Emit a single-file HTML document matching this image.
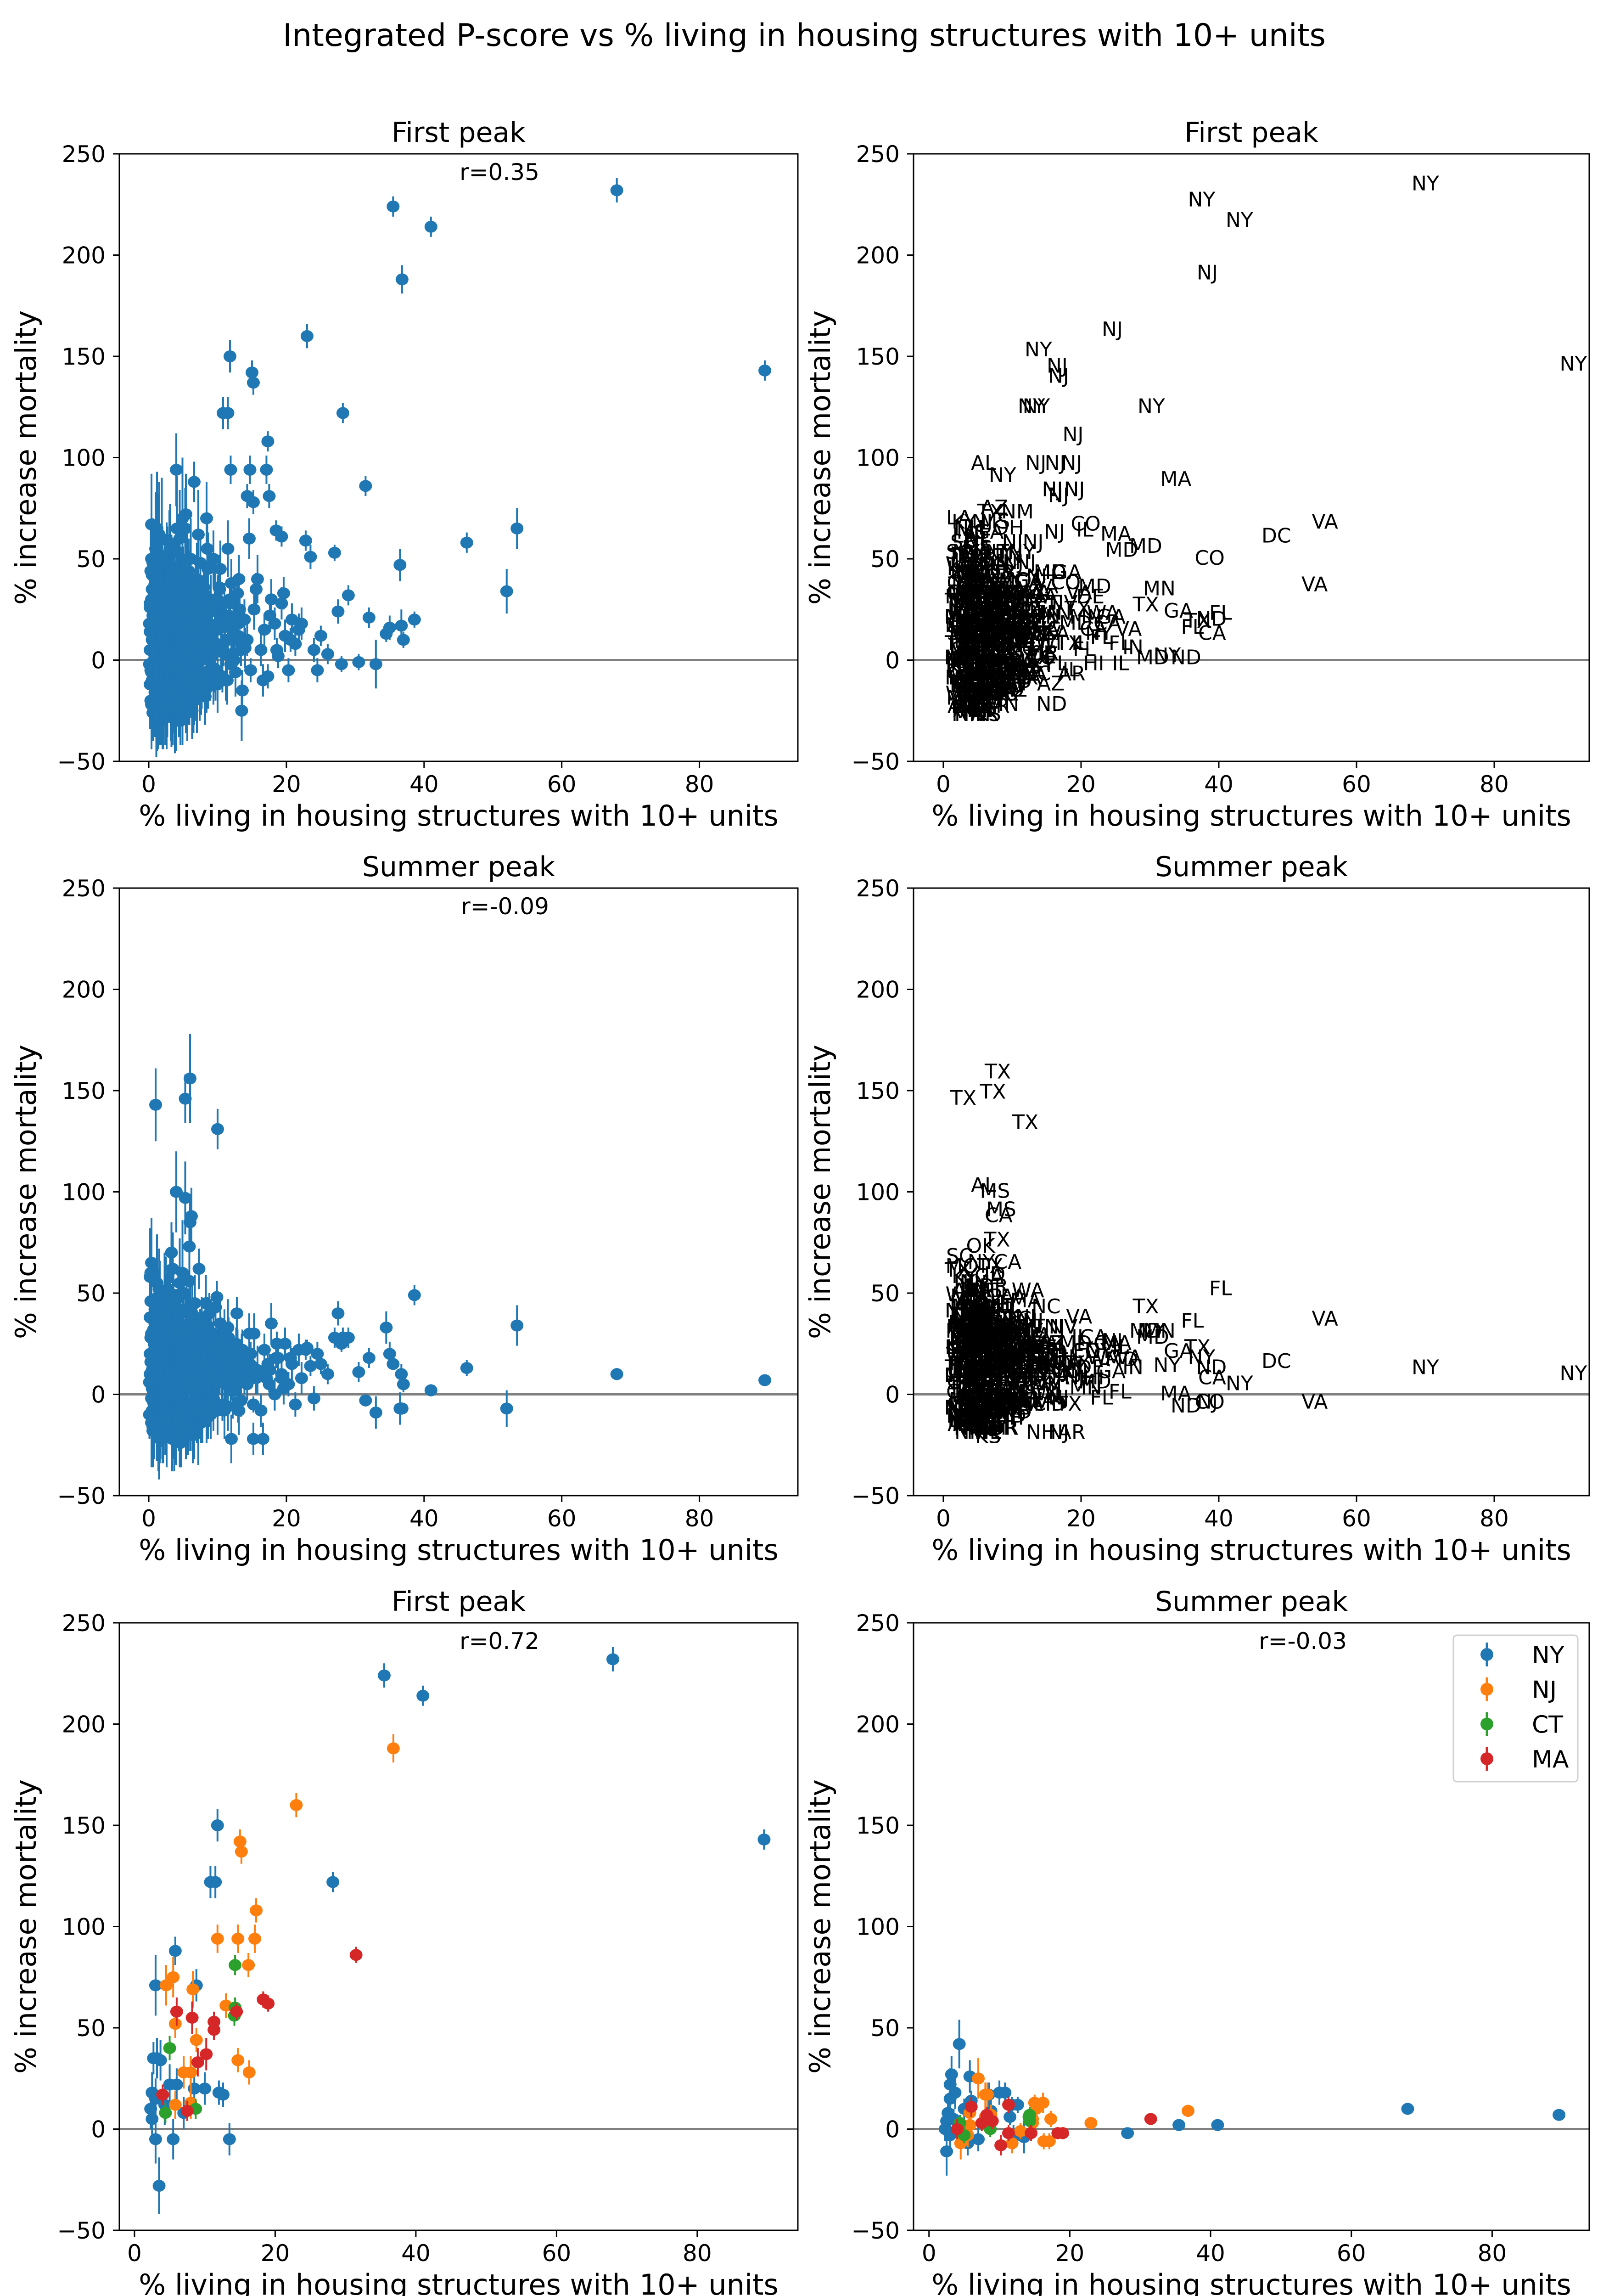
<!DOCTYPE html>
<html><head><meta charset="utf-8">
<style>
html,body{margin:0;padding:0;background:#fff;overflow:hidden;width:3505px;height:5057px;}
svg{display:block;font-family:"DejaVu Sans","Liberation Sans",sans-serif;overflow:hidden;}
</style></head>
<body>
<svg id="fig" width="3505" height="5057" viewBox="0 0 3505 5057" xmlns="http://www.w3.org/2000/svg">
<rect width="3505" height="5057" fill="#fff"/>
<text x="1752" y="100" font-size="68" text-anchor="middle">Integrated P-score vs % living in housing structures with 10+ units</text>
</svg>
<script>
// ---- county data (all states) ----
const housing = [
0.2,0.5,0.8,1.0,1.3,1.6,1.9,0.3,0.7,1.1, 1.4,1.8,0.4,0.9,1.2,1.5,0.6,1.7,0.1,1.0, 0.5,1.3,0.8,1.6,0.2,1.9,0.4,1.1,1.5,0.7, 1.2,0.3,1.8,0.9,1.4,0.6,1.0,1.7,0.2,1.3,
2.2,2.5,2.8,3.1,3.4,3.7,4.0,4.3,4.6,4.9, 2.3,2.7,3.0,3.3,3.6,3.9,4.2,4.5,4.8,2.1, 2.6,2.9,3.2,3.5,3.8,4.1,4.4,4.7,5.0,2.4, 3.0,3.6,4.2,2.8,4.8,3.3,2.5,4.0,3.7,4.5,
5.2,5.5,5.8,6.1,6.4,6.7,7.0,7.3,7.6,7.9, 8.2,8.5,8.8,5.4,5.9,6.3,6.8,7.2,7.7,8.1, 8.6,5.1,5.7,6.2,6.6,7.1,7.5,8.0,8.4,8.9, 6.0,7.4,5.3,8.3,6.9,
9.2,9.6,10.0,10.4,10.8,11.2,11.6,12.0,12.4,12.8, 13.2,13.6,9.4,9.9,10.3,10.7,11.1,11.5,11.9,12.3, 12.7,13.1,13.5,13.9,9.7,10.5,11.3,12.1,12.9,13.4,
14.3,14.8,15.3,15.8,16.3,16.8,17.3,17.8,18.3,18.8, 19.3,19.8,20.3,20.8,21.3,21.8,14.6,15.6,16.6,17.6, 18.6,19.6,20.6,22.2,24.5,
68,35.5,41,36.8,23,11.8,15,15.2,10.8,11.5, 28.2,17.3,89.5,11.9,14.7,17.1,31.5,14.3,17.5,15.2, 46.2,53.5,52,36.5,27,23.5,22.8,18.5,19.3,29, 32,34.5,36.7,38.6,37,28,30.5,33,13.5,27.5, 25,35,24,26,
0.3,0.6,0.9,1.2,1.5,1.8,2.1,2.4,2.7,3.0, 3.3,3.6,3.9,4.2,4.5,4.8,5.1,5.4,5.7,6.0, 0.4,0.7,1.0,1.3,1.6,1.9,2.2,2.5,2.8,3.1, 3.4,3.7,4.0,4.3,4.6,4.9,5.2,5.5,5.8,6.1, 6.4,6.8,7.2,7.6,8.0,8.4,8.8,9.2,9.6,10.0, 0.5,0.8,1.1,1.4,1.7,2.0,2.3,2.6,2.9,3.2, 3.5,3.8,4.1,4.4,4.7,5.0,5.3,5.6,5.9,6.2, 6.6,7.0,7.4,7.8,8.2,8.6,9.0,9.4,9.8,10.2, 10.6,11.0,11.4,11.8,12.2,12.6,13.0,0.2,1.0,2.0, 3.0,4.0,5.0,6.0,7.0,8.0,9.0,10.0,11.0,12.0, 1.5,2.5,3.5,4.5,5.5,6.5,7.5,8.5,9.5,10.5, 0.6,1.6,2.6,3.6,4.6,5.6,6.6,7.6,8.6,14.0,
1.0,5.3,6.0,10.0,
0.1,0.4,0.7,1.0,1.3,1.6,1.9,2.2,2.5,2.8, 3.1,3.4,3.7,4.0,4.3,4.6,4.9,5.2,5.5,5.8, 6.1,6.4,6.7,7.0,7.3,7.6,7.9,0.2,0.5,0.8, 1.1,1.4,1.7,2.0,2.3,2.6,2.9,3.2,3.5,3.8, 4.1,4.4,4.7,5.0,5.3,5.6,5.9,6.2,6.5,6.8, 7.1,7.4,7.7,8.0,0.3,0.6,0.9,1.2,1.5,1.8, 2.1,2.4,2.7,3.0,3.3,3.6,3.9,4.2,4.5,4.8, 5.1,5.4,5.7,6.0,6.3,6.6,6.9,7.2,7.5,7.8, 8.5,9.0,9.5,10.0,10.5,11.0,11.5,12.0,12.5,13.0, 0.4,1.4,2.4,3.4,4.4,5.4,6.4,7.4,8.4,9.4
];
const firstPeak = [
5,-10,20,40,-25,12,60,-5,30,2, -18,25,67,8,-30,45,15,-12,-2,55, 35,-22,0,18,28,-8,50,10,-15,22, 65,-20,38,3,-28,48,-6,32,14,58,
10,-15,35,55,-5,25,-30,45,15,70, 0,-22,20,40,8,-12,30,60,-8,18, 48,3,-25,28,12,65,-18,38,22,-2, 52,-10,5,42,32,-28,15,94,20,-20,
12,-8,30,50,-20,20,40,5,-15,28, 10,55,-5,72,18,-25,35,62,0,15, 45,-12,8,25,88,-4,48,20,70,-10, 38,-18,65,32,2,
15,-5,30,45,5,-10,22,38,0,12, 25,-15,50,8,35,-8,18,55,-2,28, 10,40,-25,20,-12,26,3,15,33,5,
10,-5,25,40,5,15,-8,30,18,2, 28,12,-5,20,8,15,60,35,-10,22, 5,33,10,18,-5,
232,224,214,188,160,150,142,137,122,122, 122,108,143,94,94,94,86,81,81,78, 58,65,34,47,53,51,59,64,61,32, 21,13,17,20,10,-2,-1,-2,-25,24, 12,16,5,3,
-2,22,44,-16,8,33,-24,15,52,-9, 27,4,-19,38,12,-4,24,-14,42,6, 30,-12,16,50,-20,4,26,-8,36,14, -16,20,46,-2,10,-22,32,18,-10,40, 6,-14,24,10,36,-6,18,2,30,-12, 42,12,-26,26,-4,48,8,-18,22,36, 0,-24,14,34,-12,28,4,50,-16,12, 22,-8,30,14,-18,8,26,-4,16,36, 4,20,-10,30,10,-6,18,26,-14,8, 58,-28,44,16,-4,30,12,-8,22,0, 62,40,-26,20,0,-20,12,24,6,16, -26,-30,-28,-22,-30,-26,-20,-16,-12,6,
10,20,-5,15,
18,-6,34,2,24,-14,40,8,-2,28, 14,-18,36,6,20,-10,30,0,16,44, -6,22,12,-16,26,4,18,-12,10,26, -4,38,16,-20,30,2,22,-8,42,12, -14,26,6,34,-2,18,-10,28,8,-4, 20,12,-8,24,44,30,-16,20,6,-22, 12,34,24,-10,4,28,-4,16,38,24, 10,-14,30,4,22,-10,14,32,2,18, 8,24,-4,16,6,28,10,-2,20,12, -22,-12,-24,-16,-20,-8,-18,-6,-14,-10
];
const summerPeak = [
10,-8,25,45,-15,5,30,60,0,15, 40,-5,20,35,-18,52,8,28,-10,18, 3,48,12,-2,38,22,65,-12,30,6, 55,16,-6,42,25,2,33,-15,20,10,
15,-12,30,50,5,22,-20,40,10,60, -5,25,45,0,35,-15,18,55,8,28, 38,-8,12,62,20,2,48,-18,25,32, 8,42,-2,26,15,70,18,100,30,-22,
20,5,35,-10,28,45,12,62,0,18, 30,8,40,-5,73,15,25,-15,38,10, 22,50,-20,88,32,6,15,28,-8,20, 85,12,97,45,35,
10,25,-8,35,15,5,28,-22,18,40, 8,22,30,48,12,-5,20,33,2,15, 25,-8,18,10,43,28,14,5,22,-3,
5,20,30,12,-8,22,15,35,0,18, 10,25,5,15,-5,22,30,8,-22,12, 25,3,18,8,20,
10,15,2,-7,23,10,8,-5,18,5, 28,12,7,20,15,8,-3,12,5,-22, 13,34,-7,-7,28,14,22,18,8,28, 18,33,10,49,5,25,11,-9,15,40, 15,20,-2,10,
28,-10,14,40,2,20,-14,36,8,24, -6,48,16,-2,30,12,-12,24,6,40, -2,32,18,-14,44,10,-8,26,52,4, 20,-16,34,14,-6,28,8,42,-4,18, 26,4,-10,22,12,30,-2,16,8,20, 12,-16,36,6,26,-8,50,18,0,34, 14,-12,26,42,4,-4,20,10,56,-10, 2,24,14,-6,18,8,28,-2,12,20, 6,-8,16,26,2,12,-4,58,22,-18, 6,36,-14,24,10,2,-10,16,30,10, -20,48,30,8,-16,20,-6,34,2,24, -18,-22,-20,-16,-24,-12,-20,-14,-10,14,
143,146,156,131,
6,30,-4,20,36,10,-10,26,44,0, 18,32,-8,24,8,40,-2,16,30,-12, 22,6,34,-4,14,26,2,38,18,-6, 28,12,-14,22,42,4,14,30,-6,20, 36,10,-10,24,2,32,16,-4,20,8, -8,28,12,4,46,-16,24,8,30,16, -10,20,38,4,26,-12,12,34,0,22, 14,30,-6,18,40,4,-8,22,10,26, 14,-4,20,6,24,10,-6,16,2,12, -14,-18,-12,-22,-10,-16,-20,-8,-12,-6
];
const firstErr = [
15,20,18,25,12,16,30,14,22,12, 18,20,25,12,15,22,14,16,12,28, 20,14,12,18,22,15,24,12,16,18, 28,14,20,12,16,22,12,18,14,24,
14,16,20,22,12,18,15,20,14,30, 12,16,18,22,12,14,20,24,12,16, 20,12,15,18,14,26,14,18,16,12, 22,12,14,20,18,15,14,18,16,14,
12,10,16,20,12,14,18,10,12,14, 10,18,10,20,12,14,16,22,10,12, 18,10,10,14,10,10,16,12,18,10, 16,12,20,14,10,
10,8,12,14,8,10,10,12,8,8, 10,10,14,8,12,8,10,14,8,10, 8,12,12,10,8,10,8,8,10,8,
8,6,10,12,8,8,6,10,8,6, 8,8,6,8,6,8,10,8,8,8, 6,8,6,8,6,
6,5,5,7,6,8,6,6,8,8, 5,5,5,7,7,7,5,6,6,6, 5,10,11,8,4,6,5,5,5,5, 5,4,8,4,4,4,4,12,15,6, 5,6,6,5,
16,20,14,18,22,12,20,16,14,22, 18,12,20,16,14,18,12,22,16,14, 20,14,18,12,22,16,14,20,12,18, 16,22,14,18,12,20,16,14,22,18, 12,16,14,20,12,16,14,12,18,14, 20,16,22,14,18,12,20,14,16,18, 12,22,14,16,20,12,18,14,16,12, 14,16,12,18,14,12,16,14,12,16, 12,14,12,10,14,12,10,24,18,16, 14,16,12,14,12,10,12,10,12,10, 26,20,16,18,14,16,12,14,10,12, 14,12,16,14,12,14,12,10,12,10,
15,12,14,12,
20,16,22,18,14,20,16,24,18,14, 16,22,18,14,20,16,18,14,22,16, 14,18,16,20,14,16,12,22,18,16, 20,14,18,24,16,20,14,18,16,22, 14,18,16,14,20,16,12,18,14,16, 12,14,16,12,24,20,22,18,16,20, 18,16,22,18,14,20,16,18,14,16, 14,18,16,14,16,12,14,12,16,14, 12,10,12,10,12,10,12,10,10,10, 22,20,18,16,18,16,14,14,12,12
];
const summerErr = [
14,18,16,22,12,15,25,14,20,12, 18,18,22,12,15,20,14,16,12,24, 18,14,12,16,20,15,22,12,16,16, 24,14,18,12,16,20,12,16,14,22,
14,16,18,20,12,16,15,18,14,26, 12,16,18,20,12,14,18,22,12,16, 18,12,15,18,14,22,14,18,16,12, 20,12,14,18,16,15,14,20,16,14,
12,10,16,18,12,14,16,10,12,14, 10,16,10,18,14,12,14,20,10,12, 16,10,10,14,10,10,14,12,16,10, 14,12,18,14,10,
10,8,12,12,8,10,10,12,8,8, 10,10,12,8,12,8,10,14,8,10, 8,12,12,10,8,10,8,8,10,8,
8,6,10,12,8,8,6,10,8,6, 8,8,6,8,6,8,10,8,8,8, 6,8,6,8,6,
3,3,3,3,4,5,4,4,5,4, 5,4,2,5,4,4,3,4,4,8, 4,10,9,8,5,5,5,5,5,5, 5,8,5,5,4,4,5,8,8,6, 5,6,6,5,
16,20,14,18,22,12,20,16,14,22, 18,12,20,16,14,18,12,22,16,14, 20,14,18,12,22,16,14,20,12,18, 16,22,14,18,12,20,16,14,22,18, 12,16,14,20,12,16,14,12,18,14, 20,16,22,14,18,12,20,14,16,18, 12,22,14,16,20,12,18,14,16,12, 14,16,12,18,14,12,16,14,12,16, 12,14,12,10,14,12,10,24,18,16, 14,16,12,14,12,10,12,10,12,10, 22,20,16,18,14,16,12,14,10,12, 14,12,16,14,12,14,12,10,12,10,
18,12,22,10,
20,16,22,18,14,20,16,24,18,14, 16,22,18,14,20,16,18,14,22,16, 14,18,16,20,14,16,12,22,18,16, 20,14,18,24,16,20,14,18,16,22, 14,18,16,14,20,16,12,18,14,16, 12,14,16,12,24,20,22,18,16,20, 18,16,22,18,14,20,16,18,14,16, 14,18,16,14,16,12,14,12,16,14, 12,10,12,10,12,10,12,10,10,10, 22,20,18,16,18,16,14,14,12,12
];
const stateCode = [
"TX","GA","KY","NE","KS","IA","MS","MO","TN","VA", "AL","WI","LA","NC","MN","IN","OH","MT","ND","SD", "OK","AR","IL","MI","NM","PA","SC","WV","CO","ID", "KY","WA","GA","IA","AK","TX","MO","KS","NE","LA",
"MS","TX","IN","NJ","OR","GA","AR","NY","OH","TX", "MN","ND","PA","VA","NC","IL","WI","GA","KS","TN", "MI","MO","AL","NY","CO","NJ","MT","TX","KY","IA", "CA","ID","TN","SC","FL","OK","WA","AL","MO","NE",
"VA","IN","MA","NY","NC","PA","TX","CA","OH","WI", "GA","NJ","IL","AZ","TX","MN","MI","OH","FL","MD", "NJ","OR","UT","MS","NY","WA","TN","CA","NM","KY", "CA","CO","MS","LA","OK",
"MD","PA","MA","NJ","FL","VA","IL","NH","OR","NC", "CT","AZ","NY","WA","CA","RI","MI","NJ","TX","GA", "FL","MD","ND","MN","MA","NY","UT","CO","VA","WI",
"CA","FL","NV","GA","TX","MD","IL","VA","MN","FL", "DE","CA","HI","WA","FL","CA","NJ","CO","AR","TX", "IL","MD","NY","GA","IL",
"NY","NY","NY","NJ","NJ","NY","NJ","NJ","NY","NY", "NY","NJ","NY","NJ","NJ","NJ","MA","NJ","NJ","NJ", "DC","VA","VA","CO","MD","MD","MA","CO","IL","MN", "GA","FL","ND","FL","CA","MD","NY","ND","ND","TX", "VA","TX","FL","IN",
"KS","NE","IA","MO","TX","GA","KY","TN","MS","AL", "OK","AR","LA","SD","ND","MT","WI","MN","IL","IN", "OH","MI","PA","NY","VA","NC","SC","WV","KY","TX", "GA","IA","KS","NE","CO","NM","AZ","UT","ID","OR", "WA","CA","NV","WY","MO","TN","AL","MS","LA","TX", "KS","IA","NE","SD","ND","MN","WI","MI","OH","IN", "IL","MO","AR","OK","TX","NM","CO","UT","ID","MT", "WA","OR","CA","NV","AZ","TX","LA","MS","AL","GA", "FL","SC","NC","VA","WV","KY","TN","TX","MO","KS", "NE","IA","MN","WI","MI","OH","PA","NY","VT","ME", "NH","MA","CT","RI","NJ","DE","MD","DC","VA","NC", "AL","NM","MN","TX","KS","AR","OR","ND","NE","IL",
"TX","TX","TX","TX",
"MO","KS","TX","GA","IA","NE","KY","TN","OK","AR", "MS","AL","LA","IN","OH","WI","MN","MI","IL","PA", "VA","NC","SC","WV","NY","TX","CO","ND","SD","MT", "ID","OR","WA","NM","AZ","UT","NV","CA","FL","GA", "TX","MO","KS","IA","NE","KY","TN","OK","AR","MS", "AL","LA","IN","OH","WI","MN","MI","IL","PA","VA", "NC","SC","WV","NY","TX","CO","ND","SD","MT","ID", "OR","WA","NM","AZ","UT","NV","CA","FL","GA","TX", "MD","NJ","MA","CT","IL","CA","WA","CO","MN","VA", "MN","AR","TX","NM","WI","KY","OR","MI","ND","NE"
];

// ---- Northeast subset ----
const nyX = [35.5,41,68,89.5,11.8,10.8,11.5,28.2,5.8,3, 8.8,3.2,3.7,2.7,6,5,8.5,10,12,12.6, 2.5,3,2.5,3,5.5,13.5,3.5,2.3,4.3,7];
const nyFirst = [224,214,232,143,150,122,122,122,88,71, 71,35,34,35,22,22,20,20,18,17, 18,15,5,-5,-5,-5,-28,10,12,8];
const nySummer = [2,2,10,7,12,18,6,-2,26,22, 9,27,18,8,14,10,17,18,-4,12, 4,-3,-11,15,-7,-4,5,0,42,-5];
const nyFirstErr = [6,5,6,5,8,8,8,5,7,15, 8,10,10,8,8,10,8,8,6,6, 10,10,12,12,10,8,14,10,10,8];
const nySummerErr = [3,2,3,2,4,5,4,2,8,8, 6,9,8,6,5,5,6,6,6,4, 6,8,12,6,6,8,5,6,12,6];

const njX = [36.8,23,15,15.2,17.3,11.8,14.7,17.1,16.2,5.5, 4.5,8.3,13,5.8,8.8,7,8,14.7,16.3,8,5.8];
const njFirst = [188,160,142,137,108,94,94,94,81,75, 71,69,61,52,44,28,28,34,28,13,12];
const njSummer = [9,3,13,10,5,-7,3,-6,13,-3, -7,17,-1,8,7,25,6,5,-6,17,2];
const njFirstErr = [7,6,6,6,6,7,7,7,6,10, 10,9,6,7,6,8,8,6,6,8,7];
const njSummerErr = [3,2,4,4,4,5,4,4,5,6, 8,6,4,5,5,10,5,4,4,6,6];

const ctX = [14.3,14.3,14.2,5,8.7,4.4];
const ctFirst = [81,60,56,40,10,8];
const ctSummer = [7,4,6,-3,0,3];
const ctFirstErr = [5,5,5,6,5,5];
const ctSummerErr = [4,4,4,4,4,4];

const maX = [31.5,18.3,19,6,8.2,11.3,11.3,14.5,10.2,9,4,7.5];
const maFirst = [86,64,62,58,55,53,49,58,37,33,17,9];
const maSummer = [5,-2,-2,11,7,12,-2,-2,-8,4,0,3];
const maFirstErr = [4,4,4,7,8,5,5,4,8,7,5,5];
const maSummerErr = [3,3,3,5,4,4,4,4,5,4,5,4];

const xTicks = [0,20,40,60,80];
const yTicks = [-50,0,50,100,150,200,250];
const legendStates = ["NY","NJ","CT","MA"];
const rValues = ["r=0.35","","r=-0.09","","r=0.72","r=-0.03"];

const NS = "http://www.w3.org/2000/svg";
const svg = document.getElementById('fig');
function mk(tag, attrs, parent){
  const e = document.createElementNS(NS, tag);
  for (const k in attrs) e.setAttribute(k, attrs[k]);
  (parent||svg).appendChild(e);
  return e;
}
const C = {NY:"#1f77b4",NJ:"#ff7f0e",CT:"#2ca02c",MA:"#d62728"};

const panels = [
  {name:"first-peak-scatter", L:260, R:1738, T:335, xmin:-4.27, xmax:94.3, title:"First peak", rx:1088},
  {name:"first-peak-labels", L:1990, R:3462, T:335, xmin:-4.33, xmax:93.8, title:"First peak"},
  {name:"summer-peak-scatter", L:260, R:1738, T:1934, xmin:-4.27, xmax:94.3, title:"Summer peak", rx:1100},
  {name:"summer-peak-labels", L:1990, R:3462, T:1934, xmin:-4.33, xmax:93.8, title:"Summer peak"},
  {name:"first-peak-northeast", L:260, R:1738, T:3534, xmin:-2.15, xmax:94.3, title:"First peak", rx:1088},
  {name:"summer-peak-northeast", L:1990, R:3462, T:3534, xmin:-2.2, xmax:93.8, title:"Summer peak", rx:2838}
];
const H = 1323, YMIN=-50, YMAX=250;

panels.forEach((p,i)=>{
  const g = mk('g',{});
  
  
  const sx = v => p.L + (v - p.xmin)/(p.xmax - p.xmin)*(p.R - p.L);
  const sy = v => p.T + (YMAX - v)/(YMAX - YMIN)*H;
  p.sx = sx; p.sy = sy; p.g = g;
  const cp = mk('clipPath',{id:'clip'+i},g);
  mk('rect',{x:p.L,y:p.T,width:p.R-p.L,height:H},cp);
  p.plot = mk('g',{'clip-path':'url(#clip'+i+')'},g);
  const z = mk('line',{x1:p.L,x2:p.R,y1:sy(0),y2:sy(0),stroke:"#808080","stroke-width":5},p.plot);
  
  
});

function errDot(p, x, y, e, color, name){
  const g = p.plot;
  const l = mk('line',{x1:p.sx(x),x2:p.sx(x),y1:p.sy(y+e),y2:p.sy(y-e),stroke:color,"stroke-width":4},g);
  
  
  const c = mk('ellipse',{cx:p.sx(x),cy:p.sy(y),rx:14,ry:13,fill:color},g);
  
  
}

housing.forEach((x,i)=>{ errDot(panels[0], x, firstPeak[i], firstErr[i], "#1f77b4", "county-point"); });
housing.forEach((x,i)=>{ errDot(panels[2], x, summerPeak[i], summerErr[i], "#1f77b4", "county-point"); });
function lab(p, x, y, s){
  const t = mk('text',{x:p.sx(x),y:p.sy(y),"font-size":44,fill:"#000"},p.plot);
  t.textContent = s;
  
  
}
housing.forEach((x,i)=>{ lab(panels[1], x, firstPeak[i], stateCode[i]); });
housing.forEach((x,i)=>{ lab(panels[3], x, summerPeak[i], stateCode[i]); });
const ne = [["NY",nyX,nyFirst,nySummer,nyFirstErr,nySummerErr],["NJ",njX,njFirst,njSummer,njFirstErr,njSummerErr],
            ["CT",ctX,ctFirst,ctSummer,ctFirstErr,ctSummerErr],["MA",maX,maFirst,maSummer,maFirstErr,maSummerErr]];
ne.forEach(s=>{
  s[1].forEach((x,i)=>{
    errDot(panels[4], x, s[2][i], s[4][i], C[s[0]], s[0].toLowerCase()+"-point");
    errDot(panels[5], x, s[3][i], s[5][i], C[s[0]], s[0].toLowerCase()+"-point");
  });
});

panels.forEach((p,i)=>{
  const g = p.g;
  const fr = mk('rect',{x:p.L,y:p.T,width:p.R-p.L,height:H,fill:"none",stroke:"#000","stroke-width":3},g);
  
  
  xTicks.forEach(v=>{
    const X = p.sx(v);
    mk('line',{x1:X,x2:X,y1:p.T+H,y2:p.T+H+14,stroke:"#000","stroke-width":3},g);
    const t = mk('text',{x:X,y:p.T+H+67,"font-size":50,"text-anchor":"middle"},g);
    t.textContent = v;
    
    
  });
  yTicks.forEach(v=>{
    const Y = p.sy(v);
    mk('line',{x1:p.L-14,x2:p.L,y1:Y,y2:Y,stroke:"#000","stroke-width":3},g);
    const t = mk('text',{x:p.L-30,y:Y+18,"font-size":50,"text-anchor":"end"},g);
    t.textContent = v<0 ? "\u2212"+Math.abs(v) : v;
    
    
  });
  const xl = mk('text',{x:(p.L+p.R)/2,y:p.T+H+140,"font-size":62,"text-anchor":"middle"},g);
  xl.textContent = "% living in housing structures with 10+ units";
  
  
  const yx = p.L - 182, yc = p.T + H/2;
  const yl = mk('text',{x:yx,y:yc,"font-size":62,"text-anchor":"middle",transform:`rotate(-90 ${yx} ${yc})`},g);
  yl.textContent = "% increase mortality";
  
  
  const tt = mk('text',{x:(p.L+p.R)/2,y:p.T-26,"font-size":60,"text-anchor":"middle"},g);
  tt.textContent = p.title;
  
  
  if (rValues[i]) {
    const r = mk('text',{x:p.rx,y:p.T+57,"font-size":50,"text-anchor":"middle"},g);
    r.textContent = rValues[i];
    
    
  }
});

const lg = mk('g',{});


mk('rect',{x:3166,y:3561,width:271,height:319,rx:8,fill:"#fff","fill-opacity":0.8,stroke:"#d0d0d0","stroke-width":3},lg);
legendStates.forEach((s,i)=>{
  const y = 3603 + i*75.7;
  const e = mk('g',{},lg);
  
  
  mk('line',{x1:3239,x2:3239,y1:y-26,y2:y+26,stroke:C[s],"stroke-width":5},e);
  mk('circle',{cx:3239,cy:y,r:14,fill:C[s]},e);
  const t = mk('text',{x:3337,y:y+19,"font-size":52},e);
  t.textContent = s;
});
</script>
</body></html>
